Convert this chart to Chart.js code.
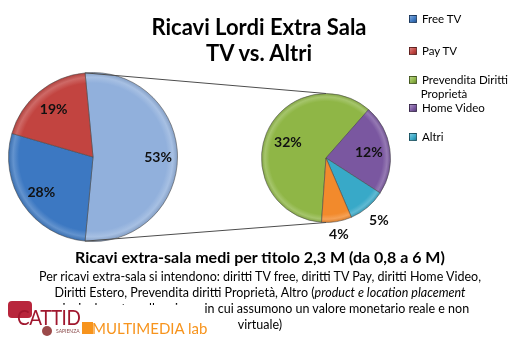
<!DOCTYPE html>
<html>
<head>
<meta charset="utf-8">
<script src="https://cdn.jsdelivr.net/npm/chart.js@4.4.1/dist/chart.umd.min.js"></script>
<style>
  body { margin: 0; background: #fff; }
  #wrap { position: relative; width: 518px; height: 346px; overflow: hidden; font-family: Lato, "Open Sans", sans-serif; color: #000; }
  #wrap canvas { position: absolute; left: 0; top: 0; }
  .abs { position: absolute; white-space: nowrap; }
  .title { left: 0; width: 518px; text-align: center; font-weight: bold; font-size: 22px; line-height: 26px; }
  .legend { left: 409px; font-size: 11.5px; line-height: 14px; }
  .legend i { display: inline-block; width: 6px; height: 6px; margin-right: 5px; border: 1px solid rgba(0,0,0,0.45); vertical-align: 0px; }
  .sub { left: 0; width: 520px; text-align: center; }
  .cover { left: 0; top: 305px; width: 203px; height: 41px; background: #fff; }
</style>
</head>
<body>
<div id="wrap">
  <canvas id="mainPie" width="518" height="346"></canvas>
  <canvas id="detailPie" width="518" height="346"></canvas>

  <div class="abs title" style="top:14px">Ricavi Lordi Extra Sala</div>
  <div class="abs title" style="top:40px">TV vs. Altri</div>

  <div id="legend"></div>

  <div class="abs sub" style="top:247px;font-weight:bold;font-size:16px;line-height:20px">Ricavi extra-sala medi per titolo 2,3 M (da 0,8 a 6 M)</div>
  <div class="abs sub" style="top:269px;font-size:12.5px;line-height:16px">
    Per ricavi extra-sala si intendono: diritti TV free, diritti TV Pay, diritti Home Video,<br>
    Diritti Estero, Prevendita diritti Proprietà, Altro (<i>product e location placement</i><br>
    principalmente nelle misure in cui assumono un valore monetario reale e non<br>
    virtuale)
  </div>

  <!-- logo block sits on a white plate over the last lines -->
  <div class="abs cover"></div>
  <div class="abs" style="left:8px;top:301px;width:24px;height:17px;background:#b8263c;border-radius:4px"></div>
  <div class="abs" style="left:17px;top:306px;font-size:21px;line-height:21px;color:#a0172e;letter-spacing:-0.5px;transform:scaleX(0.9);transform-origin:0 0">CATTID</div>
  <div class="abs" style="left:42px;top:326px;width:10px;height:10px;border-radius:50%;background:#9b4a4a"></div>
  <div class="abs" style="left:56px;top:328px;font-size:5px;color:#8a4a4a">SAPIENZA</div>
  <div class="abs" style="left:82px;top:322px;width:11px;height:12px;background:#f7941d"></div>
  <div class="abs" style="left:92px;top:318px;font-size:15px;line-height:20px;color:#f7941d">MULTIMEDIA lab</div>
</div>

<script>
// main pie: TV channels vs. everything else
const mainLabels = ['Altri', 'Free TV', 'Pay TV'];
const mainValues = [53, 28, 19];
const mainColors = ['#91b0dc', '#3c78c2', '#c24440'];

// breakdown of the "Altri" slice
const detailLabels = ['Prevendita Diritti Proprietà', 'Home Video', 'Altri', 'Diritti Estero'];
const detailValues = [32, 12, 5, 4];
const detailColors = ['#8fb646', '#7a57a0', '#38a9c8', '#f28a2c'];

// legend entries
const legendLabels = ['Free TV', 'Pay TV', 'Prevendita Diritti<br>&nbsp;&nbsp;&nbsp;&nbsp;Proprietà', 'Home Video', 'Altri'];
const legendColors = ['#3c78c2', '#c24440', '#8fb646', '#7a57a0', '#38a9c8'];
const legendTops = [12, 44, 73, 101, 130];

function shade(hex, f) {
  const n = parseInt(hex.slice(1), 16);
  let rgb = [(n >> 16) & 255, (n >> 8) & 255, n & 255];
  rgb = rgb.map(c => Math.round(f >= 0 ? c + (255 - c) * f : c * (1 + f)));
  return 'rgb(' + rgb.join(',') + ')';
}

// flat body with a bevelled rim
function sliceFill(colors) {
  return (c) => {
    const base = colors[c.dataIndex % colors.length];
    const chart = c.chart, a = chart.chartArea;
    if (!a) return base;
    const cx = (a.left + a.right) / 2, cy = (a.top + a.bottom) / 2;
    const r = Math.min(a.right - a.left, a.bottom - a.top) / 2;
    const g = chart.ctx.createRadialGradient(cx, cy, 0, cx, cy, r);
    g.addColorStop(0, base);
    g.addColorStop(0.87, base);
    g.addColorStop(0.94, shade(base, 0.2));
    g.addColorStop(1, shade(base, -0.12));
    return g;
  };
}

const pctLabels = {
  id: 'pctLabels',
  afterDatasetsDraw(chart, args, opts) {
    const ctx = chart.ctx;
    const values = chart.data.datasets[0].data;
    ctx.save();
    ctx.font = 'bold 14px Lato, sans-serif';
    ctx.fillStyle = '#111';
    ctx.textAlign = 'center';
    ctx.textBaseline = 'middle';
    chart.getDatasetMeta(0).data.forEach((arc, i) => {
      const p = arc.getProps(['x', 'y', 'startAngle', 'endAngle', 'outerRadius'], true);
      const mid = (p.startAngle + p.endAngle) / 2;
      const d = p.outerRadius * opts.radius[i];
      ctx.fillText(values[i] + '%', p.x + Math.cos(mid) * d, p.y + Math.sin(mid) * d);
    });
    ctx.restore();
  }
};

function pieOptions(rotation, padding, labelRadius) {
  return {
    responsive: false,
    animation: false,
    rotation: rotation,
    layout: { padding: padding },
    plugins: {
      legend: { display: false },
      tooltip: { enabled: false },
      pctLabels: { radius: labelRadius }
    }
  };
}

// split slice is centred on the right-hand side
const mainTotal = mainValues.reduce((s, v) => s + v, 0);
const mainRotation = 90 - (mainValues[0] / mainTotal) * 180;

const mainChart = new Chart(document.getElementById('mainPie'), {
  type: 'pie',
  data: {
    labels: mainLabels,
    datasets: [{
      data: mainValues,
      backgroundColor: sliceFill(mainColors),
      borderColor: 'rgba(70,70,70,0.55)',
      borderWidth: 1
    }]
  },
  options: pieOptions(mainRotation, { left: 7, top: 72, right: 339, bottom: 104 }, [0.77, 0.74, 0.73]),
  plugins: [pctLabels]
});

// lines from the split slice edges to the top and bottom of the second pie
const connector = {
  id: 'connector',
  afterDraw(chart) {
    const src = mainChart.getDatasetMeta(0).data[0].getProps(['x', 'y', 'startAngle', 'endAngle', 'outerRadius'], true);
    const dst = chart.getDatasetMeta(0).data[0].getProps(['x', 'y', 'outerRadius'], true);
    const ctx = chart.ctx;
    ctx.save();
    ctx.strokeStyle = '#4d4d4d';
    ctx.lineWidth = 1;
    ctx.beginPath();
    ctx.moveTo(src.x + Math.cos(src.startAngle) * src.outerRadius, src.y + Math.sin(src.startAngle) * src.outerRadius);
    ctx.lineTo(dst.x, dst.y - dst.outerRadius);
    ctx.moveTo(src.x + Math.cos(src.endAngle) * src.outerRadius, src.y + Math.sin(src.endAngle) * src.outerRadius);
    ctx.lineTo(dst.x, dst.y + dst.outerRadius);
    ctx.stroke();
    ctx.restore();
  }
};

new Chart(document.getElementById('detailPie'), {
  type: 'pie',
  data: {
    labels: detailLabels,
    datasets: [{
      data: detailValues,
      backgroundColor: sliceFill(detailColors),
      borderColor: 'rgba(70,70,70,0.55)',
      borderWidth: 1
    }]
  },
  options: pieOptions(-176, { left: 261, top: 93, right: 127, bottom: 123 }, [0.64, 0.67, 1.27, 1.2]),
  plugins: [pctLabels, connector]
});

// legend
const legend = document.getElementById('legend');
legendLabels.forEach((t, i) => {
  const el = document.createElement('div');
  el.className = 'abs legend';
  el.style.top = legendTops[i] + 'px';
  const c = legendColors[i];
  el.innerHTML = '<i style="background:linear-gradient(135deg,' + shade(c, 0.35) + ',' + c + ' 60%,' + shade(c, -0.25) + ')"></i>' + t;
  legend.appendChild(el);
});
</script>
</body>
</html>
